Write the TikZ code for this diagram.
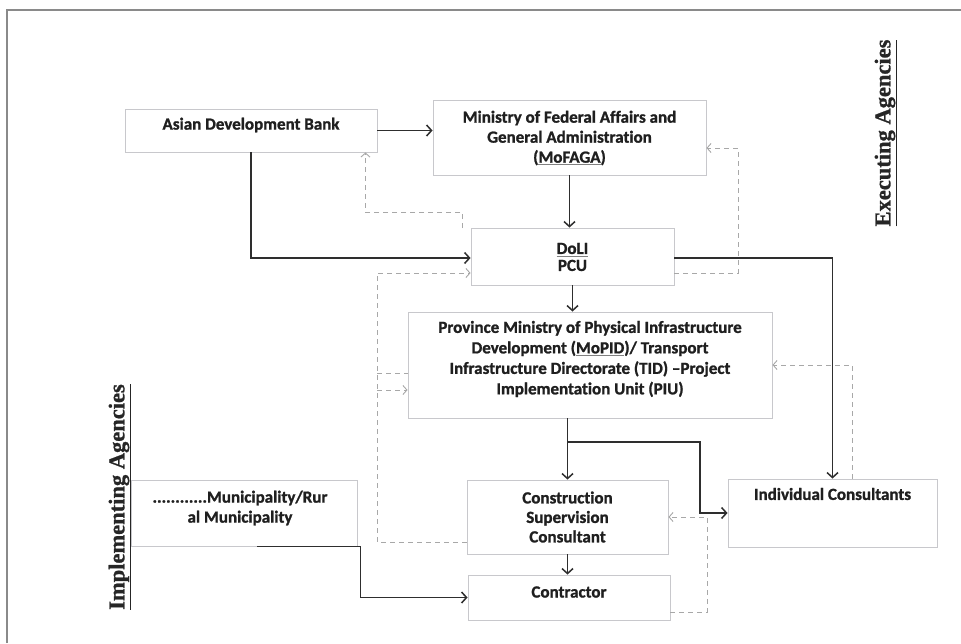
\documentclass[tikz,border=0pt]{standalone}
\usepackage{fontspec}
\usetikzlibrary{arrows.meta,calc}
\newfontfamily\calib[Ligatures={NoCommon},FakeBold=1.2]{Carlito}
\newfontfamily\serifb[FakeBold=1.0]{Liberation Serif}
\definecolor{boxgray}{HTML}{C8C8CC}
\definecolor{linegray}{HTML}{2E2E2E}
\definecolor{dashgray}{HTML}{A8A8A8}
\definecolor{framegray}{HTML}{8A8A8A}
\newcommand\squl[1]{\setbox0\hbox{#1}\rlap{\color{gray}\rule[-2.5pt]{\wd0}{0.7pt}}\box0}
\tikzset{
  box/.style={draw=boxgray, line width=0.9pt, fill=white, inner sep=0pt},
  txt/.style={font=\calib\bfseries\fontsize{17}{20}\selectfont, align=center, inner sep=0pt, text=black!88},
  arr/.style={draw=linegray, line width=1.8pt, -{Straight Barb[length=5pt,width=11pt,line width=1.5pt]}},
  darr/.style={draw=dashgray, line width=0.9pt, dash pattern=on 5pt off 4pt, -{Straight Barb[length=4pt,width=9pt,line width=0.9pt]}},
  dline/.style={draw=dashgray, line width=0.9pt, dash pattern=on 5pt off 4pt},
  vlab/.style={rotate=90, font=\serifb\bfseries\fontsize{22.5}{26}\selectfont, inner sep=0pt, text=black!85}
}
\begin{document}
\begin{tikzpicture}[x=1pt,y=-1pt]
\useasboundingbox (0,0) rectangle (961,643);
\fill[white] (0,0) rectangle (961,643);
\draw[framegray, line width=1.2pt] (7,643) -- (7,10) -- (961,10);

% boxes
\node[box, minimum width=252pt, minimum height=43pt] (adb) at (251,130.5) {};
\node[box, minimum width=273pt, minimum height=75pt] (mof) at (569.5,137.5) {};
\node[box, minimum width=203pt, minimum height=57pt] (doli) at (572.5,256.5) {};
\node[box, minimum width=364pt, minimum height=106pt] (piu) at (590,365) {};
\node[box, minimum width=226pt, minimum height=66pt] (mun) at (244,513) {};
\node[box, minimum width=201pt, minimum height=74pt] (csc) at (567.5,517) {};
\node[box, minimum width=202pt, minimum height=45pt] (con) at (569,597.5) {};
\node[box, minimum width=209pt, minimum height=68pt] (ic) at (832.5,513) {};

% texts
\node[txt] (adbt) at (251,125) {Asian Development Bank};
\node[txt] (moft) at (569.5,138) {Ministry of Federal Affairs and\\General Administration\\(\squl{MoFAGA})};
\node[txt, font=\calib\bfseries\fontsize{17}{17}\selectfont] (dolit) at (572.5,257) {\squl{DoLI}\\PCU};
\node[txt, font=\calib\bfseries\fontsize{17}{20.5}\selectfont] (piut) at (590,359) {Province Ministry of Physical Infrastructure\\Development (\squl{MoPID})/ Transport\\Infrastructure Directorate (TID) –Project\\Implementation Unit (PIU)};
\node[txt] (munt) at (240,508) {............Municipality/Rur\\al Municipality};
\node[txt, font=\calib\bfseries\fontsize{17}{19.5}\selectfont] (csct) at (567.5,517) {Construction\\Supervision\\Consultant};
\node[txt] (cont) at (569,592) {Contractor};
\node[txt] (ict) at (832.5,494) {Individual Consultants};

% side labels
\node[vlab] (exec) at (886,133) {\underline{Executing Agencies}};
\node[vlab] (impl) at (120,497) {\underline{Implementing Agencies}};

% solid connectors
\draw[arr] (adb.east) -- (adb.east -| mof.west);
\draw[arr] (adb.south) |- ([yshift=-1.5pt]doli.west);
\draw[arr] (mof.south) -- (mof.south |- doli.north);
\draw[arr] (doli.south) -- (doli.south |- piu.north);
\draw[arr] ([yshift=-1.5pt]doli.east) -| (ic.north);
\coordinate (br) at (567.5,442);
\coordinate (kn) at (700,442);
\draw[arr] (csc.north |- piu.south) -- (csc.north);
\draw[arr] (br) -- (kn) |- (ic.west);
\draw[arr] (csc.south) -- (csc.south |- con.north);
\draw[arr] ([xshift=13pt]mun.south) -- ([xshift=3pt]mun.south east) |- (con.west);

% dashed feedback connectors
\coordinate (da1) at (462,228);
\coordinate (da2) at (462,212);
\draw[darr] (da1) -- (da2) -| ([xshift=-12pt]adb.south east);
\coordinate (lc) at (377,273);
\draw[darr] ([yshift=-25pt]csc.west) -| (lc) -- (lc -| doli.west);
\coordinate (lp1) at (377,373);
\coordinate (lp2) at (377,390);
\draw[dline] (lp1) -- (lp1 -| piu.west);
\draw[darr] (lp2) -- (lp2 -| piu.west);
\coordinate (rc) at (738,273);
\draw[darr] (rc -| doli.east) -- (rc) |- ([yshift=-10.5pt]mof.east);
\draw[darr] ([xshift=19.5pt]ic.north) |- (piu.east);
\coordinate (ec) at (707,612);
\draw[darr] ([yshift=-14.5pt]con.east) -- (ec) |- (csc.east);
\end{tikzpicture}
\end{document}
